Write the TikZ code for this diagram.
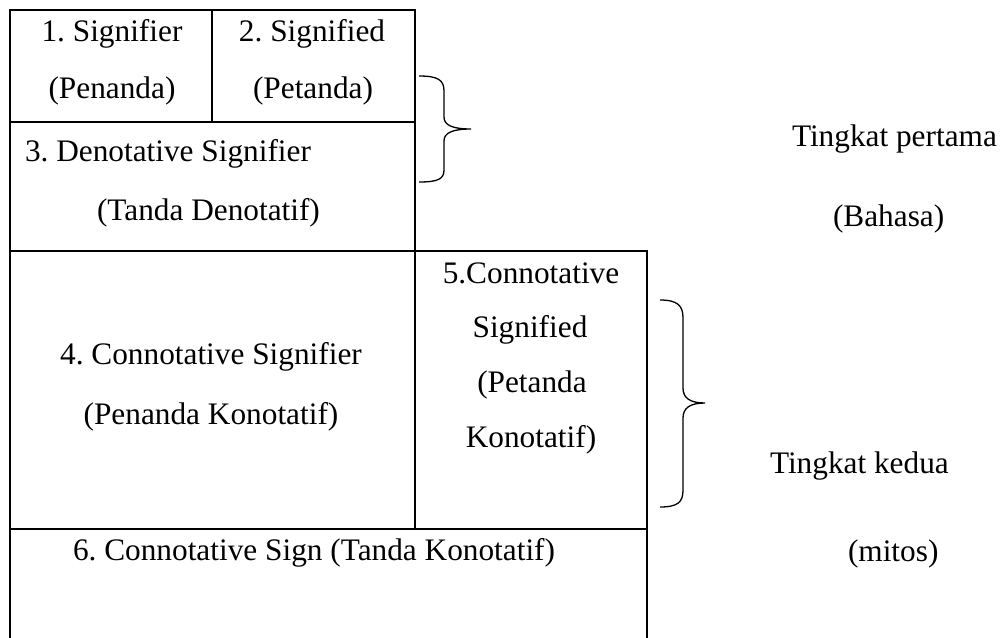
\documentclass[tikz,border=0pt]{standalone}
\usepackage{fontspec}
\setmainfont{Liberation Serif}
\frenchspacing
\begin{document}
\begin{tikzpicture}[x=1pt,y=-1pt,
  grid/.style={line width=1.6pt, line cap=rect},
  bracepath/.style={line width=1.3pt},
  txt/.style={inner sep=0pt, outer sep=0pt, font=\fontsize{31.3}{37}\selectfont\frenchspacing},
  mid/.style={txt, anchor=base},
  left/.style={txt, anchor=base west}]
\useasboundingbox (0,0) rectangle (1003,637);
% named grid points
\coordinate (TL) at (10,10);
\coordinate (TR) at (415,10);
\coordinate (TM) at (212,10);
\coordinate (ML) at (10,122);
\coordinate (MR) at (415,122);
\coordinate (MM) at (212,122);
\coordinate (BL) at (10,251);
\coordinate (BM) at (415,251);
\coordinate (BR) at (647,251);
\coordinate (CL) at (10,529);
\coordinate (CM) at (415,529);
\coordinate (CR) at (647,529);
\coordinate (EL) at (10,637);
\coordinate (ER) at (647,637);
% top table
\draw[grid] (BL) -- (TL) -- (TR) -- (BM);
\draw[grid] (TM) -- (MM);
\draw[grid] (ML) -- (MR);
% bottom table
\draw[grid] (EL) -- (BL) -- (BR) -- (ER);
\draw[grid] (BM) -- (CM);
\draw[grid] (CL) -- (CR);
% braces
\draw[bracepath] (419,76) .. controls (438,76) and (444,80) .. (444,91) -- (444,117)
  .. controls (444,125) and (452,129) .. (471,129)
  .. controls (452,129) and (444,133) .. (444,141) -- (444,170)
  .. controls (444,179) and (438,182) .. (419,182);
\draw[bracepath] (660,300) .. controls (678,300) and (683,306) .. (683,318) -- (683,388)
  .. controls (683,398) and (690,403) .. (705,403)
  .. controls (690,403) and (683,408) .. (683,418) -- (683,490)
  .. controls (683,502) and (678,507) .. (660,507);
% texts
\node[mid] (n1a) at (112,41) {1. Signifier};
\node[mid] (n1b) at (112,98) {(Penanda)};
\node[mid] (n2a) at (312,41) {2. Signified};
\node[mid] (n2b) at (313,98) {(Petanda)};
\node[left] (n3a) at (25,161) {3. Denotative Signifier};
\node[left] (n3b) at (97,220) {(Tanda Denotatif)};
\node[mid] (n4a) at (211,364) {4. Connotative Signifier};
\node[mid] (n4b) at (211,424) {(Penanda Konotatif)};
\node[mid] (n5a) at (531,283) {5.Connotative};
\node[mid] (n5b) at (530,337) {Signified};
\node[mid] (n5c) at (532,392) {(Petanda};
\node[mid] (n5d) at (531,447) {Konotatif)};
\node[left] (n6) at (73,560) {6. Connotative Sign (Tanda Konotatif)};
\node[left] (l1a) at (792,146) {Tingkat pertama};
\node[left] (l1b) at (833,226) {(Bahasa)};
\node[left] (l2a) at (770,473) {Tingkat kedua};
\node[left] (l2b) at (848,561) {(mitos)};
\end{tikzpicture}
\end{document}
